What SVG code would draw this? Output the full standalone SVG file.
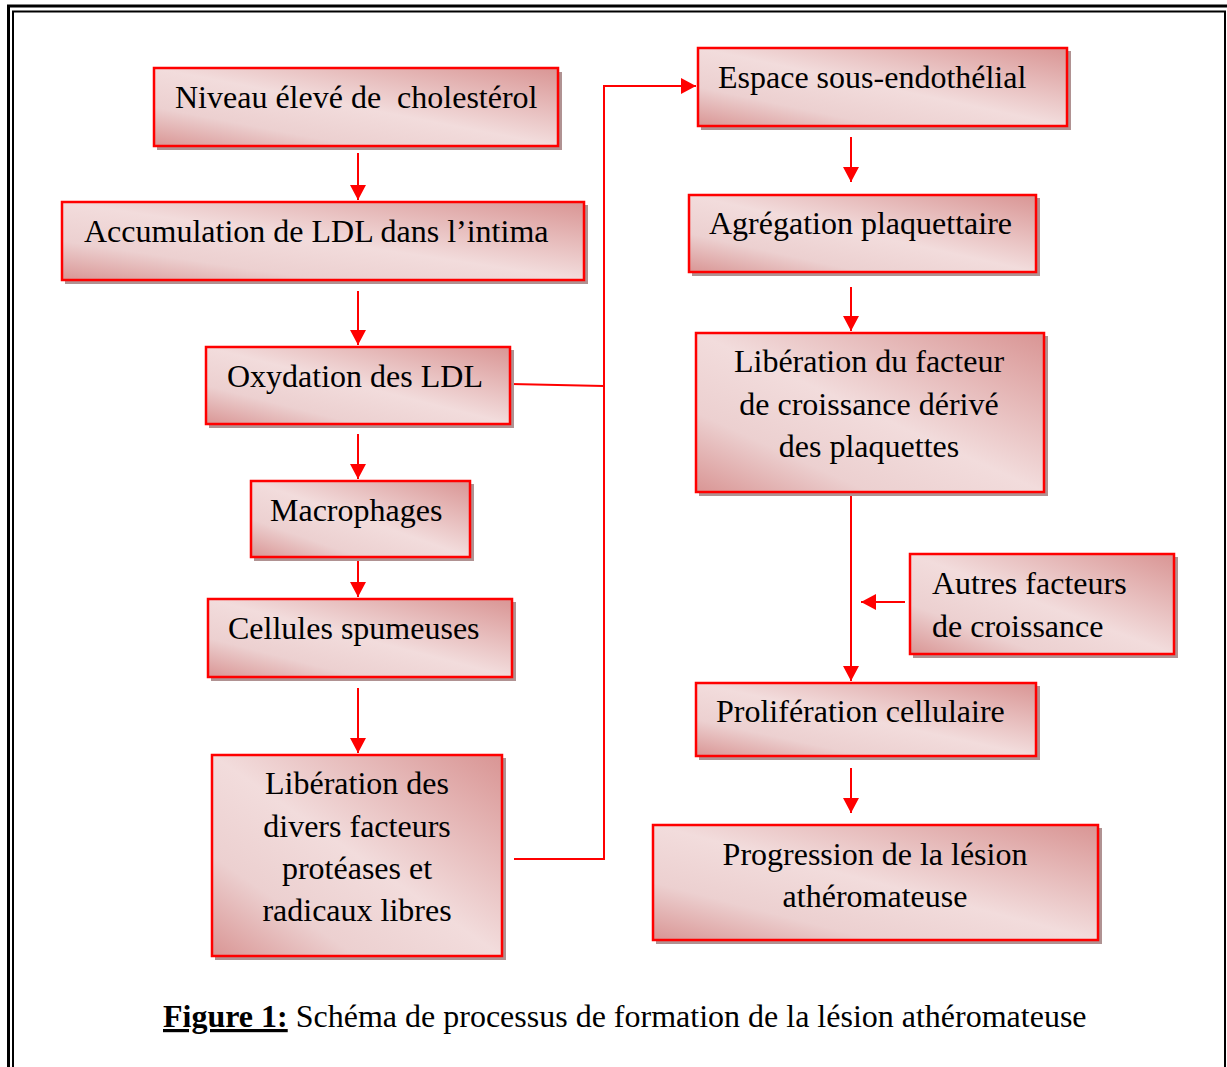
<svg xmlns="http://www.w3.org/2000/svg" width="1227" height="1067" viewBox="0 0 1227 1067">
<style>
.box{fill:url(#g);stroke:#ff0000;stroke-width:2.5}
.sh{fill:#b09292}
.t{font-family:"Liberation Serif","Times New Roman",serif;font-size:32px;fill:#000;white-space:pre}
.c{text-anchor:middle}
.ln{stroke:#ff0000;stroke-width:2;fill:none}
.frame{fill:none;stroke:#000}
</style>
<defs>
<linearGradient id="g" x1="1" y1="0" x2="0" y2="1">
<stop offset="0" stop-color="#d99594"/>
<stop offset="0.5" stop-color="#f2dcdc"/>
<stop offset="0.75" stop-color="#ecd0d0"/>
<stop offset="1" stop-color="#d99594"/>
</linearGradient>
<marker id="ah" markerUnits="userSpaceOnUse" markerWidth="16" markerHeight="16" refX="15" refY="8" orient="auto">
<path d="M0,0 L15,8 L0,16 Z" fill="#ff0000"/>
</marker>
</defs>
<rect width="1227" height="1067" fill="#fff"/>
<g id="frame">
<path class="frame" stroke-width="3" d="M8.5,1067 V6 H1240"/>
<path class="frame" stroke-width="2" d="M13,1067 V11.5 H1225 V1067"/>
</g>
<g id="connectors">
<line class="ln" x1="358" y1="153" x2="358" y2="200" marker-end="url(#ah)"/>
<line class="ln" x1="358" y1="291" x2="358" y2="345" marker-end="url(#ah)"/>
<line class="ln" x1="358" y1="434" x2="358" y2="479" marker-end="url(#ah)"/>
<line class="ln" x1="358" y1="558" x2="358" y2="597" marker-end="url(#ah)"/>
<line class="ln" x1="358" y1="688" x2="358" y2="753" marker-end="url(#ah)"/>
<polyline class="ln" points="511,384 604,386"/>
<polyline class="ln" points="514,859 604,859 604,86 696,86" marker-end="url(#ah)"/>
<line class="ln" x1="851" y1="137" x2="851" y2="182" marker-end="url(#ah)"/>
<line class="ln" x1="851" y1="287" x2="851" y2="331" marker-end="url(#ah)"/>
<line class="ln" x1="851" y1="493" x2="851" y2="681" marker-end="url(#ah)"/>
<line class="ln" x1="905" y1="602" x2="861" y2="602" marker-end="url(#ah)"/>
<line class="ln" x1="851" y1="768" x2="851" y2="813" marker-end="url(#ah)"/>
</g>
<g id="n1"><rect class="sh" x="157" y="72" width="405" height="78"/><rect class="box" x="154" y="68" width="404" height="78"/><text class="t" x="175" y="108" xml:space="preserve">Niveau élevé de  cholestérol</text></g>
<g id="n2"><rect class="sh" x="65" y="205" width="523" height="79"/><rect class="box" x="62" y="202" width="522" height="78"/><text class="t" x="84" y="242">Accumulation de LDL dans l’intima</text></g>
<g id="n3"><rect class="sh" x="209" y="350" width="305" height="78"/><rect class="box" x="206" y="347" width="304" height="77"/><text class="t" x="227" y="387">Oxydation des LDL</text></g>
<g id="n4"><rect class="sh" x="254" y="484" width="220" height="77"/><rect class="box" x="251" y="481" width="219" height="76"/><text class="t" x="270" y="521">Macrophages</text></g>
<g id="n5"><rect class="sh" x="211" y="602" width="305" height="79"/><rect class="box" x="208" y="599" width="304" height="78"/><text class="t" x="228" y="639">Cellules spumeuses</text></g>
<g id="n6"><rect class="sh" x="215" y="758" width="291" height="202"/><rect class="box" x="212" y="755" width="290" height="201"/><text class="t c" x="357" y="794">Libération des</text><text class="t c" x="357" y="837">divers facteurs</text><text class="t c" x="357" y="879">protéases et</text><text class="t c" x="357" y="921">radicaux libres</text></g>
<g id="n7"><rect class="sh" x="701" y="51" width="370" height="79"/><rect class="box" x="698" y="48" width="369" height="78"/><text class="t" x="718" y="88">Espace sous-endothélial</text></g>
<g id="n8"><rect class="sh" x="692" y="198" width="348" height="78"/><rect class="box" x="689" y="195" width="347" height="77"/><text class="t" x="709" y="234">Agrégation plaquettaire</text></g>
<g id="n9"><rect class="sh" x="699" y="336" width="349" height="160"/><rect class="box" x="696" y="333" width="348" height="159"/><text class="t c" x="869" y="372">Libération du facteur</text><text class="t c" x="869" y="415">de croissance dérivé</text><text class="t c" x="869" y="457">des plaquettes</text></g>
<g id="n10"><rect class="sh" x="913" y="557" width="265" height="101"/><rect class="box" x="910" y="554" width="264" height="100"/><text class="t" x="932" y="594">Autres facteurs</text><text class="t" x="932" y="637">de croissance</text></g>
<g id="n11"><rect class="sh" x="699" y="686" width="341" height="74"/><rect class="box" x="696" y="683" width="340" height="73"/><text class="t" x="716" y="722">Prolifération cellulaire</text></g>
<g id="n12"><rect class="sh" x="656" y="828" width="446" height="116"/><rect class="box" x="653" y="825" width="445" height="115"/><text class="t c" x="875" y="865">Progression de la lésion</text><text class="t c" x="875" y="907">athéromateuse</text></g>
<g id="caption"><text class="t" x="163" y="1027"><tspan font-weight="bold" text-decoration="underline">Figure 1:</tspan> Schéma de processus de formation de la lésion athéromateuse</text></g>
</svg>
